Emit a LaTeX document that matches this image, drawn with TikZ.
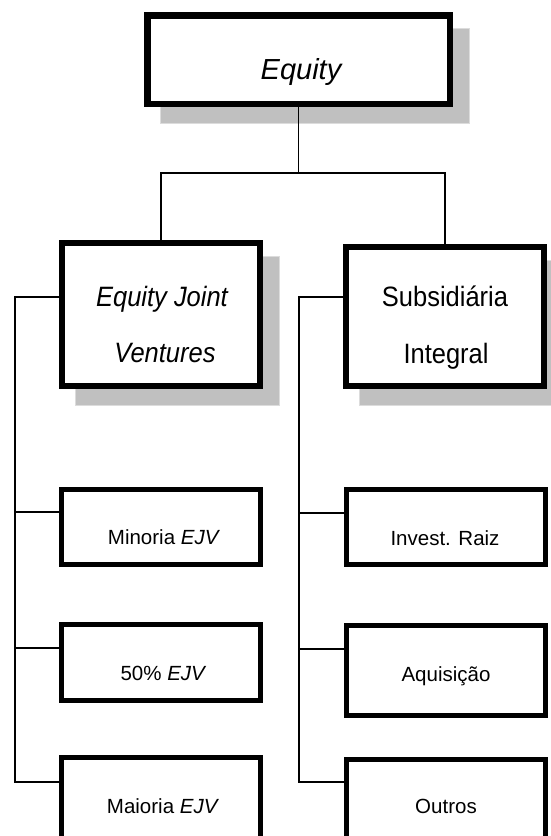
\documentclass[tikz,border=0pt]{standalone}
\usepackage{fontspec}
\setmainfont{Liberation Sans}
\newfontfamily\condfont{Liberation Sans}[FakeStretch=0.91]
\usetikzlibrary{backgrounds}
\definecolor{shadowgrey}{HTML}{C0C0C0}
\definecolor{shadowedge}{HTML}{DCDCDC}
\tikzset{
  boxthick/.style={draw=black, fill=white, inner sep=0pt, line width=6.5pt},
  boxmid/.style={draw=black, fill=white, inner sep=0pt, line width=6pt},
  boxsmall/.style={draw=black, fill=white, inner sep=0pt, line width=5pt},
  shadowbox/.style={fill=shadowgrey, draw=shadowedge, line width=1pt},
  conn/.style={draw=black, line width=1.3pt},
  txt/.style={anchor=base, inner sep=0pt, outer sep=0pt, text=black},
  toptxt/.style={txt, font=\fontsize{29}{29}\selectfont\itshape},
  midtxt/.style={txt, font=\condfont\fontsize{28}{28}\selectfont},
  miditxt/.style={txt, font=\condfont\fontsize{28}{28}\selectfont\itshape},
  lowtxt/.style={txt, font=\fontsize{20.5}{20.5}\selectfont},
}
\begin{document}
\begin{tikzpicture}[x=1pt, y=-1pt]
\useasboundingbox (0,0) rectangle (551,836);
\clip (0,0) rectangle (551,836);

% boxes
\node[boxthick, minimum width=302.5pt, minimum height=88.5pt] (eq) at (298.5,59.5) {};
\node[boxmid, minimum width=198pt, minimum height=143pt] (ejv) at (161,314.5) {};
\node[boxmid, minimum width=198pt, minimum height=139pt] (sub) at (445,316.5) {};

\node[boxsmall, minimum width=199pt, minimum height=75pt] (m1) at (161,527) {};
\node[boxsmall, minimum width=199pt, minimum height=76pt] (m2) at (161,662.5) {};
\node[boxsmall, minimum width=199pt, minimum height=95pt] (m3) at (161,805) {};

\node[boxsmall, minimum width=199pt, minimum height=75pt] (r1) at (446,527) {};
\node[boxsmall, minimum width=199pt, minimum height=90pt] (r2) at (446,670.5) {};
\node[boxsmall, minimum width=199pt, minimum height=95pt] (r3) at (446,807) {};

% background and shadows
\begin{scope}[on background layer]
\fill[white] (0,0) rectangle (551,836);
\path[shadowbox] ([shift={(16,16)}]eq.north west) rectangle ([shift={(16,16)}]eq.south east);
\path[shadowbox] ([shift={(16,16)}]ejv.north west) rectangle ([shift={(16,16)}]ejv.south east);
\path[shadowbox] ([shift={(16,16)}]sub.north west) rectangle ([shift={(16,16)}]sub.south east);
\end{scope}

% texts
\node[toptxt] (eqt) at (301,79) {Equity};
\node[miditxt] (ejvt1) at (162,306) {Equity Joint};
\node[miditxt] (ejvt2) at (165,362) {Ventures};
\node[midtxt] (subt1) at (445,306) {Subsidiária};
\node[midtxt] (subt2) at (446,363) {Integral};

\node[lowtxt] (m1t) at (164,544) {Minoria \textit{EJV}};
\node[lowtxt] (m2t) at (163.5,680) {50\% \textit{EJV}};
\node[lowtxt] (m3t) at (163,813) {Maioria \textit{EJV}};
\node[lowtxt] (r1t) at (445,545) {Invest. Raiz};
\node[lowtxt] (r2t) at (446,681) {Aquisição};
\node[lowtxt] (r3t) at (446,813) {Outros};

% connectors
\coordinate (bus) at (298.5,173);
\coordinate (lsp) at (15,297);
\coordinate (rsp) at (299,297);
\draw[conn] (eq.south) -- (bus);
\draw[conn] (ejv.north) |- (bus) -| (sub.north);

\draw[conn] (ejv.west |- lsp) -- (lsp) |- (m3.west |- 0,782);
\draw[conn] (lsp) |- (m1.west |- 0,512);
\draw[conn] (lsp) |- (m2.west |- 0,648);

\draw[conn] (sub.west |- rsp) -- (rsp) |- (r3.west |- 0,782);
\draw[conn] (rsp) |- (r1.west |- 0,513);
\draw[conn] (rsp) |- (r2.west |- 0,649);
\end{tikzpicture}
\end{document}
